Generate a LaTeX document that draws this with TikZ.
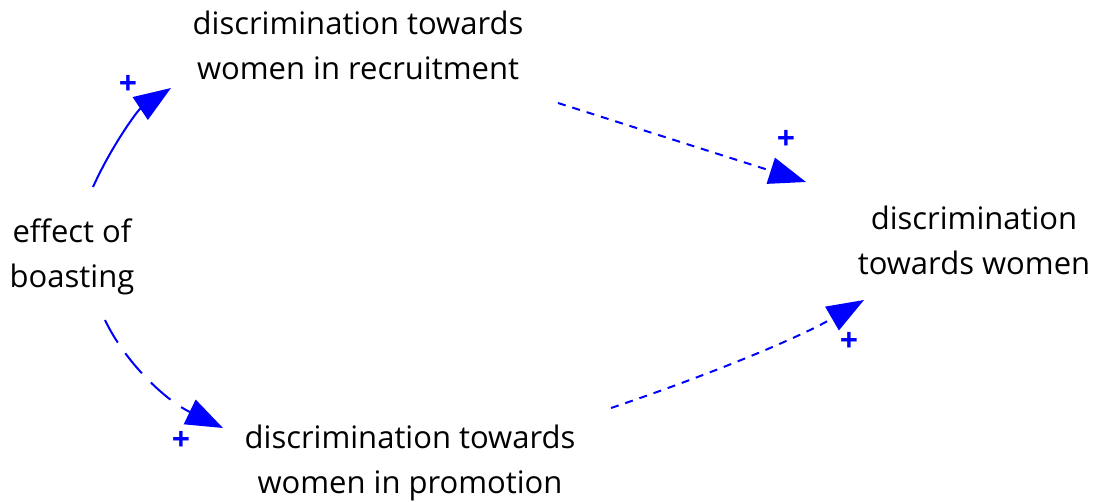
\documentclass[tikz,border=0pt]{standalone}
\usepackage{fontspec}
\setmainfont{Open Sans}
\usetikzlibrary{arrows.meta}
\begin{document}
\begin{tikzpicture}[x=1pt,y=-1pt,
  var/.style={align=center,font=\fontsize{31}{45}\selectfont,text=black,inner sep=0pt},
  link/.style={draw=blue,line width=2pt,-{Triangle[length=37pt,width=27pt]}},
  dotlink/.style={link,dash pattern=on 8pt off 7pt},
  longdash/.style={link,dash pattern=on 26pt off 13pt},
  pol/.style={text=blue,font=\fontsize{32}{32}\selectfont\bfseries,inner sep=0pt}]
\useasboundingbox (0,0) rectangle (1094,502);
\node[var] (rec) at (358,45) {discrimination towards\\women in recruitment};
\node[var] (wom) at (974,240) {discrimination\\towards women};
\node[var] (eff) at (72,257) {effect of\\boasting};
\node[var] (pro) at (410,463) {discrimination towards\\women in promotion};
\coordinate (e1s) at (93,187);
\coordinate (e1e) at (171,88);
\coordinate (e2s) at (105,320);
\coordinate (e2e) at (223,428);
\coordinate (e3s) at (558,103);
\coordinate (e3e) at (806,182);
\coordinate (e4s) at (611,408);
\coordinate (e4e) at (864,300);
\draw[link] (e1s) .. controls (112,145) and (138,110) .. (e1e);
\draw[longdash] (e2s) .. controls (125,362) and (165,400) .. (e2e);
\draw[dotlink] (e3s) -- (e3e);
\draw[dotlink] (e4s) .. controls (700,378) and (795,340) .. (e4e);
\node[pol] (p1) at (128,85) {+};
\node[pol] (p2) at (181,441) {+};
\node[pol] (p3) at (786,140) {+};
\node[pol] (p4) at (849,342) {+};
\end{tikzpicture}
\end{document}
